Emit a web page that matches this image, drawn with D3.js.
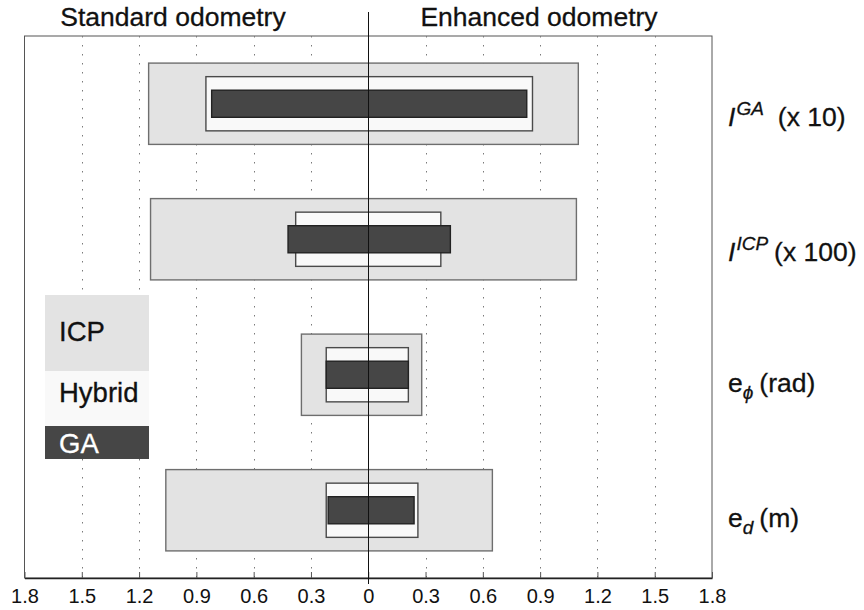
<!DOCTYPE html>
<html><head><meta charset="utf-8">
<script src="https://cdn.jsdelivr.net/npm/d3@7"></script>
<style>
body{margin:0;background:#fff}
svg{display:block;font-family:"Liberation Sans",Arial,Helvetica,sans-serif}
</style>
</head><body>
<svg id="c" width="864" height="610"></svg>
<script>
// ---- data ----
const categories = ["I_GA", "I_ICP", "e_phi", "e_d"];
const labelBase = ["I", "I", "e", "e"];
const labelBaseItalic = [true, true, false, false];
const labelScript = ["GA", "ICP", "\u03D5", "d"];
const labelScriptType = ["sup", "sup", "sub", "sub"];
const labelSuffix = ["(x 10)", "(x 100)", "(rad)", "(m)"];

const seriesNames = ["ICP", "Hybrid", "GA"];
// left side: Standard odometry (magnitudes)
const standardICP    = [1.15, 1.14, 0.35, 1.06];
const standardHybrid = [0.85, 0.38, 0.22, 0.22];
const standardGA     = [0.82, 0.42, 0.22, 0.21];
// right side: Enhanced odometry
const enhancedICP    = [1.10, 1.09, 0.28, 0.65];
const enhancedHybrid = [0.86, 0.38, 0.21, 0.26];
const enhancedGA     = [0.83, 0.43, 0.21, 0.24];

const tickValues = [-1.8, -1.5, -1.2, -0.9, -0.6, -0.3, 0, 0.3, 0.6, 0.9, 1.2, 1.5, 1.8];
const sideTitles = ["Standard odometry", "Enhanced odometry"];

// ---- styles ----
const fills   = {ICP: "#e3e3e3", Hybrid: "#f9f9f9", GA: "#464646"};
const strokes = {ICP: "#6e6e6e", Hybrid: "#4a4a4a", GA: "#222"};
const heightFrac = {ICP: 0.6, Hybrid: 0.4, GA: 0.2};

const left = [standardICP, standardHybrid, standardGA];
const right = [enhancedICP, enhancedHybrid, enhancedGA];

const svg = d3.select("#c");
const X0 = 24.5, X1 = 712, Y0 = 36, Y1 = 578;

const x = d3.scaleLinear().domain([-1.8, 1.8]).range([X0, X1]);
const y = d3.scaleBand().domain(categories).range([Y0, Y1]).padding(0);
const bw = y.bandwidth();

// frame
svg.append("rect").attr("x", X0).attr("y", Y0).attr("width", X1 - X0).attr("height", Y1 - Y0)
  .attr("fill", "none").attr("stroke", "#555").attr("stroke-width", 1);

// gridlines
svg.append("g").selectAll("line")
  .data(tickValues.filter(d => d !== 0 && Math.abs(d) < 1.8))
  .join("line")
  .attr("x1", d => Math.round(x(d)) + 0.5).attr("x2", d => Math.round(x(d)) + 0.5)
  .attr("y1", Y0).attr("y2", Y1)
  .attr("stroke", "#7a7a7a").attr("stroke-width", 1)
  .attr("stroke-dasharray", "1.5,7.5");

// bars
const rows = [];
categories.forEach((c, i) => {
  seriesNames.forEach((s, k) => {
    rows.push({cat: c, series: s, l: left[k][i], r: right[k][i]});
  });
});
svg.append("g").selectAll("rect")
  .data(rows)
  .join("rect")
  .attr("x", d => x(-d.l))
  .attr("width", d => x(d.r) - x(-d.l))
  .attr("y", d => y(d.cat) + bw / 2 - bw * heightFrac[d.series] / 2)
  .attr("height", d => bw * heightFrac[d.series])
  .attr("fill", d => fills[d.series])
  .attr("stroke", d => strokes[d.series])
  .attr("stroke-width", 1.4);

// axis
const axis = d3.axisBottom(x).tickValues(tickValues)
  .tickFormat(d => d3.format(".1~f")(Math.abs(d)))
  .tickSizeInner(-6).tickSizeOuter(0).tickPadding(11);
const ga = svg.append("g").attr("transform", `translate(0,${Y1})`).call(axis);
ga.select(".domain").attr("stroke", "#222").attr("stroke-width", 1.3);
ga.selectAll(".tick line").attr("stroke", "#555");
ga.selectAll(".tick text").attr("font-size", 20).attr("fill", "#111")
  .attr("font-family", '"Liberation Sans",Arial,sans-serif');

// centre line
svg.append("line").attr("x1", Math.round(x(0)) + 0.5).attr("x2", Math.round(x(0)) + 0.5)
  .attr("y1", 12).attr("y2", Y1 + 6).attr("stroke", "#111").attr("stroke-width", 1);

// side titles
svg.append("g").selectAll("text").data(sideTitles).join("text")
  .attr("x", (d, i) => i === 0 ? 173 : 539)
  .attr("y", 26)
  .attr("text-anchor", "middle")
  .attr("font-size", 26.5)
  .attr("fill", "#111")
  .attr("stroke", "#111").attr("stroke-width", 0.3)
  .text(d => d);

// category labels on the right
const lab = svg.append("g").selectAll("text").data(categories).join("text")
  .attr("x", 728)
  .attr("y", (d, i) => y(d) + bw / 2 + (labelScriptType[i] === "sup" ? 22 : 17))
  .attr("font-size", 26.5)
  .attr("fill", "#111")
  .attr("stroke", "#111").attr("stroke-width", 0.3);
lab.each(function (d, i) {
  const t = d3.select(this);
  t.append("tspan").attr("font-style", labelBaseItalic[i] ? "italic" : "normal").text(labelBase[i]);
  const shift = labelScriptType[i] === "sup" ? -11 : 7;
  t.append("tspan").attr("font-style", "italic").attr("font-size", 19)
    .attr("dx", labelScriptType[i] === "sup" ? 1 : 0)
    .attr("dy", shift).text(labelScript[i]);
  t.append("tspan").attr("dy", -shift).attr("dx", i === 0 ? 14 : 6).text(labelSuffix[i]);
});

// legend
const legTop = 295, legX = 45, legW = 104;
const legH = {ICP: 76, Hybrid: 55, GA: 33};
const legBase = {ICP: 46, Hybrid: 31, GA: 27};
let yy = legTop;
const legRows = seriesNames.map(s => { const r = {s, y: yy}; yy += legH[s]; return r; });
const lg = svg.append("g");
lg.selectAll("rect").data(legRows).join("rect")
  .attr("x", legX).attr("y", d => d.y).attr("width", legW).attr("height", d => legH[d.s])
  .attr("fill", d => fills[d.s]);
lg.selectAll("text").data(legRows).join("text")
  .attr("x", legX + 14).attr("y", d => d.y + legBase[d.s])
  .attr("font-size", 27.5)
  .attr("fill", d => d.s === "GA" ? "#fff" : "#111")
  .attr("stroke", d => d.s === "GA" ? "#fff" : "#111").attr("stroke-width", 0.3)
  .text(d => d.s);
</script>
</body></html>
